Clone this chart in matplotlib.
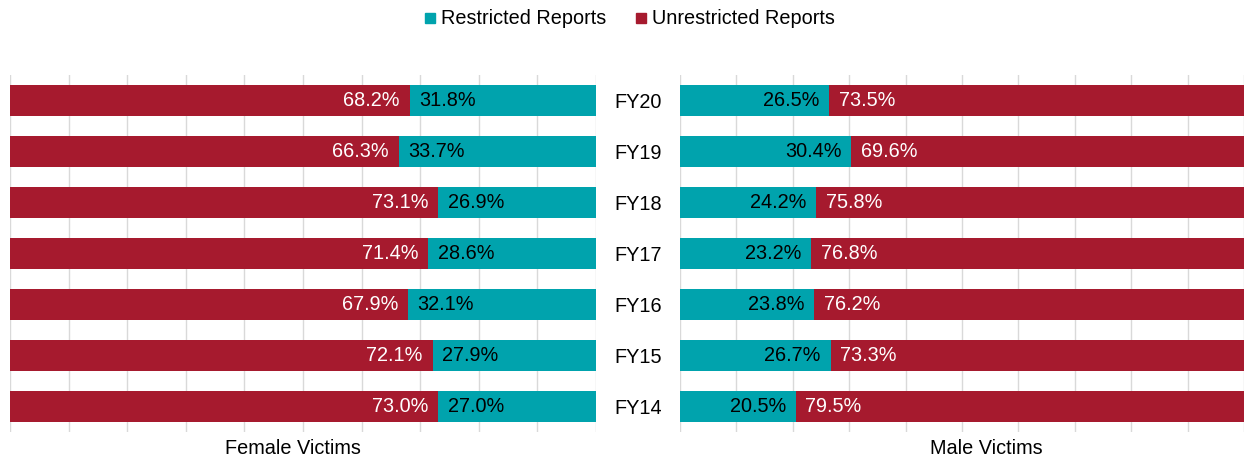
import matplotlib.pyplot as plt
from matplotlib.lines import Line2D

plt.rcParams['font.family'] = ['Liberation Sans', 'DejaVu Sans']

years = ['FY20', 'FY19', 'FY18', 'FY17', 'FY16', 'FY15', 'FY14']
female_unrestricted = [68.2, 66.3, 73.1, 71.4, 67.9, 72.1, 73.0]
female_restricted = [31.8, 33.7, 26.9, 28.6, 32.1, 27.9, 27.0]
male_restricted = [26.5, 30.4, 24.2, 23.2, 23.8, 26.7, 20.5]
male_unrestricted = [73.5, 69.6, 75.8, 76.8, 76.2, 73.3, 79.5]

RED = '#A61A2E'
TEAL = '#00A3AD'
GRID = '#D9D9D9'
W, H = 1246, 457
FS = 14.3

fig = plt.figure(figsize=(W / 100, H / 100), dpi=100)
top, bottom = 75, 432
ax1 = fig.add_axes([10 / W, (H - bottom) / H, 586 / W, (bottom - top) / H])
ax2 = fig.add_axes([680 / W, (H - bottom) / H, 564 / W, (bottom - top) / H])

ypos = list(range(len(years)))
bh = 0.59


def style(ax):
    ax.set_xlim(0, 100)
    ax.set_ylim(len(years) - 0.5, -0.5)
    ax.set_xticks(range(0, 101, 10))
    ax.tick_params(axis='x', length=0, labelbottom=False)
    ax.grid(axis='x', color=GRID, linewidth=1)
    ax.set_axisbelow(True)
    for s in ax.spines.values():
        s.set_visible(False)


# female panel: unrestricted first, restricted after
ax1.barh(ypos, female_unrestricted, height=bh, color=RED)
ax1.barh(ypos, female_restricted, left=female_unrestricted, height=bh, color=TEAL)
for y, u, r in zip(ypos, female_unrestricted, female_restricted):
    ax1.annotate(f'{u:.1f}%', (u, y), xytext=(-7, 0), textcoords='offset points',
                 ha='right', va='center', color='white', fontsize=FS)
    ax1.annotate(f'{r:.1f}%', (u, y), xytext=(7, 0), textcoords='offset points',
                 ha='left', va='center', color='black', fontsize=FS)
style(ax1)
ax1.set_yticks([])
ax1.set_xlabel('Female Victims', fontsize=FS)
ax1.xaxis.set_label_coords(283 / 586, -0.02, transform=ax1.transAxes)

# male panel: restricted first, unrestricted after
ax2.barh(ypos, male_restricted, height=bh, color=TEAL)
ax2.barh(ypos, male_unrestricted, left=male_restricted, height=bh, color=RED)
for y, r, u in zip(ypos, male_restricted, male_unrestricted):
    ax2.annotate(f'{r:.1f}%', (r, y), xytext=(-7, 0), textcoords='offset points',
                 ha='right', va='center', color='black', fontsize=FS)
    ax2.annotate(f'{u:.1f}%', (r, y), xytext=(7, 0), textcoords='offset points',
                 ha='left', va='center', color='white', fontsize=FS)
style(ax2)
ax2.set_yticks(ypos)
ax2.set_yticklabels(years, fontsize=FS)
ax2.tick_params(axis='y', length=0, pad=13)
ax2.set_xlabel('Male Victims', fontsize=FS)
ax2.xaxis.set_label_coords(306 / 564, -0.02, transform=ax2.transAxes)

handles = [Line2D([], [], marker='s', linestyle='none', color=TEAL, markersize=6.5),
           Line2D([], [], marker='s', linestyle='none', color=RED, markersize=6.5)]
fig.legend(handles, ['Restricted Reports', 'Unrestricted Reports'], loc='center',
           bbox_to_anchor=(630 / W, 1 - 19 / H), ncol=2, frameon=False, fontsize=FS,
           handletextpad=0.3, columnspacing=1.5, handlelength=0.5)

fig.savefig('out.png', dpi=100, facecolor='white')
